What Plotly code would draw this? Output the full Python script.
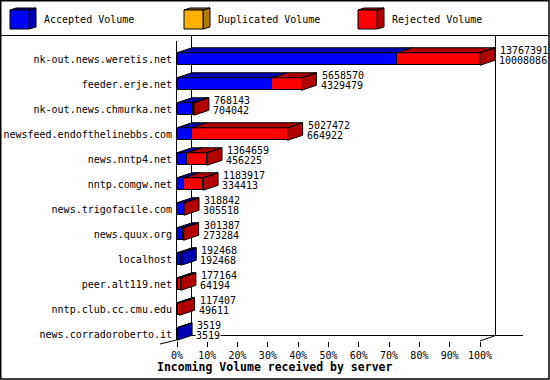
import plotly.graph_objects as go

# ---------------- data ----------------
servers = ["nk-out.news.weretis.net", "feeder.erje.net", "nk-out.news.chmurka.net",
           "newsfeed.endofthelinebbs.com", "news.nntp4.net", "nntp.comgw.net",
           "news.trigofacile.com", "news.quux.org", "localhost", "peer.alt119.net",
           "nntp.club.cc.cmu.edu", "news.corradoroberto.it"]
total_volume = [13767391, 5658570, 768143, 5027472, 1364659, 1183917,
                318842, 301387, 192468, 177164, 117407, 3519]
accepted_volume = [10008086, 4329479, 704042, 664922, 456225, 334413,
                   305518, 273284, 192468, 64194, 49611, 3519]
duplicated_volume = [0, 0, 0, 0, 0, 0, 0, 0, 0, 0, 0, 0]
rejected_volume = [3759305, 1329091, 64101, 4362550, 908434, 849504,
                   13324, 28103, 0, 112970, 67796, 0]
x_ticks = [0, 10, 20, 30, 40, 50, 60, 70, 80, 90, 100]
x_tick_labels = [f"{v}%" for v in x_ticks]
legend_names = ["Accepted Volume", "Duplicated Volume", "Rejected Volume"]

# ---------------- styles / geometry ----------------
FRONT = ["#0000ff", "#ffb000", "#ff0000"]
SHADE = ["#0000b0", "#b07b00", "#b00000"]
FONT = "DejaVu Sans Mono"
W, H = 550, 380
L, R, T, B = 177, 25, 36, 39
PW, PH = W - L - R, H - T - B
XMAX = 114.85
Y_TOP, Y_BOT = -0.92, 11.28
DX = 15 * XMAX / PW          # depth offset in data units (x)
DY = 5 * (Y_BOT - Y_TOP) / PH  # depth offset in data units (y)
HALF = 0.25


def px_x(p):
    return (p - L) / PW


def px_y(p):
    return 1 - (p - T) / PH


vmax = max(total_volume)
series = [accepted_volume, duplicated_volume, rejected_volume]
pct = [[v / vmax * 100 for v in s] for s in series]
ypos = list(range(len(servers)))

fig = go.Figure()

# front faces (stacked horizontal bars)
for k in range(3):
    fig.add_trace(go.Bar(
        y=ypos, x=pct[k], orientation="h", width=2 * HALF,
        marker=dict(color=FRONT[k], line=dict(color="black", width=1)),
        showlegend=False, hoverinfo="skip"))

# top and right faces
for k in range(3):
    xs, ys = [], []
    for i in ypos:
        x0 = sum(pct[j][i] for j in range(k))
        x1 = x0 + pct[k][i]
        if pct[k][i] <= 0:
            continue
        yt = i - HALF
        xs += [x0, x1, x1 + DX, x0 + DX, x0, None]
        ys += [yt, yt, yt - DY, yt - DY, yt, None]
        last = max(j for j in range(3) if pct[j][i] > 0)
        if last == k:
            yb = i + HALF
            xs += [x1, x1 + DX, x1 + DX, x1, x1, None]
            ys += [yt, yt - DY, yb - DY, yb, yt, None]
    fig.add_trace(go.Scatter(
        x=xs, y=ys, mode="lines", fill="toself", fillcolor=SHADE[k],
        line=dict(color="black", width=1), showlegend=False, hoverinfo="skip"))

annotations = []
for i in ypos:
    xe = total_volume[i] / vmax * 100 + DX
    annotations.append(dict(x=xe, y=i, xref="x", yref="y", text=str(total_volume[i]),
                            showarrow=False, xanchor="left", yanchor="middle",
                            xshift=3, yshift=8.5, font=dict(family=FONT, size=10, color="black")))
    annotations.append(dict(x=xe, y=i, xref="x", yref="y", text=str(accepted_volume[i]),
                            showarrow=False, xanchor="left", yanchor="middle",
                            xshift=3, yshift=-1.5, bgcolor="white", borderpad=0,
                            font=dict(family=FONT, size=10, color="black")))

# x-axis title
annotations.append(dict(x=px_x(274), y=px_y(367), xref="paper", yref="paper",
                        text="<b>Incoming Volume received by server</b>", showarrow=False,
                        xanchor="center", yanchor="middle",
                        font=dict(family=FONT, size=11.5, color="black")))

shapes = []


def line(x0, y0, x1, y1, layer="below"):
    shapes.append(dict(type="line", xref="paper", yref="paper",
                       x0=px_x(x0), y0=px_y(y0), x1=px_x(x1), y1=px_y(y1),
                       line=dict(color="black", width=1), layer=layer))


# frame of the 3D plot area
line(176.5, 41, 176.5, 340)
line(191.5, 36, 191.5, 335.5)
line(495.5, 36, 495.5, 335.5)
line(191.5, 335.5, 523, 335.5)
line(480, 341, 495.5, 335.5)
line(160, 344, 176.5, 340)

# outer border and legend separator
shapes.append(dict(type="rect", xref="paper", yref="paper",
                   x0=px_x(0.75), y0=px_y(379), x1=px_x(549), y1=px_y(0.75),
                   line=dict(color="black", width=1.5), layer="above"))
line(0.5, 35.5, 548.5, 35.5, layer="above")

# legend swatches (3D boxes)
leg_x = [10, 184, 358]
for k in range(3):
    x0 = leg_x[k]
    shapes.append(dict(type="path", xref="paper", yref="paper",
                       path=f"M{px_x(x0+19)},{px_y(10)} L{px_x(x0+26)},{px_y(8)} L{px_x(x0+26)},{px_y(27)} L{px_x(x0+19)},{px_y(29)} Z",
                       fillcolor=SHADE[k], line=dict(color="black", width=1), layer="above"))
    shapes.append(dict(type="path", xref="paper", yref="paper",
                       path=f"M{px_x(x0)},{px_y(10)} L{px_x(x0+6)},{px_y(8)} L{px_x(x0+26)},{px_y(8)} L{px_x(x0+19)},{px_y(10)} Z",
                       fillcolor=SHADE[k], line=dict(color="black", width=1), layer="above"))
    shapes.append(dict(type="rect", xref="paper", yref="paper",
                       x0=px_x(x0), y0=px_y(29), x1=px_x(x0 + 19), y1=px_y(10),
                       fillcolor=FRONT[k], line=dict(color="black", width=1), layer="above"))
    annotations.append(dict(x=px_x(x0 + 32), y=px_y(20), xref="paper", yref="paper",
                            text=legend_names[k], showarrow=False, xanchor="left",
                            yanchor="middle", font=dict(family=FONT, size=10, color="black")))

fig.update_layout(
    template="none",
    width=W, height=H, margin=dict(l=L, r=R, t=T, b=B, autoexpand=False),
    paper_bgcolor="white", plot_bgcolor="white",
    barmode="stack", bargap=0, showlegend=False,
    annotations=annotations, shapes=shapes,
    font=dict(family=FONT, size=10, color="black"),
    xaxis=dict(range=[0, XMAX], tickvals=x_ticks, ticktext=x_tick_labels,
               showgrid=False, zeroline=False, showline=False, automargin=False,
               ticks="outside", ticklen=5, tickcolor="black", tickwidth=1,
               tickfont=dict(family=FONT, size=10, color="black")),
    yaxis=dict(range=[Y_BOT, Y_TOP], tickvals=ypos, ticktext=servers,
               showgrid=False, zeroline=False, showline=False, ticks="",
               automargin=False, ticklabelstandoff=4,
               tickfont=dict(family=FONT, size=10, color="black")),
)

fig.write_html("out.html",
               post_script="document.body.style.margin='0';document.body.style.overflow='hidden';")
